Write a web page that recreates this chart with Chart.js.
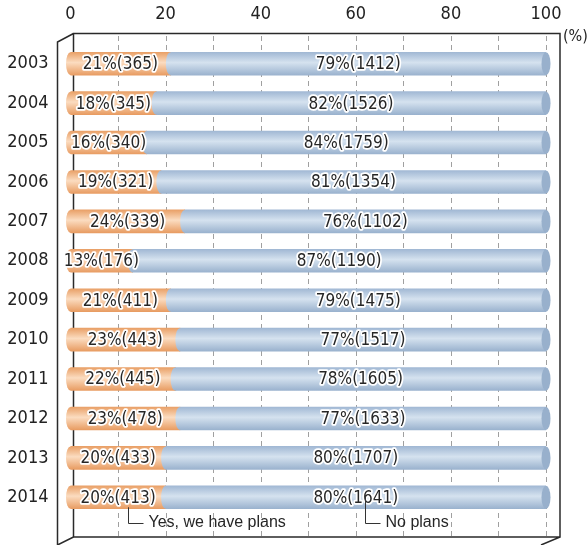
<!DOCTYPE html>
<html>
<head>
<meta charset="utf-8">
<script src="https://cdn.jsdelivr.net/npm/chart.js@4/dist/chart.umd.min.js"></script>
<style>
  html, body { margin: 0; padding: 0; background: #fff; }
  #wrap { width: 587px; height: 545px; }
</style>
</head>
<body>
<div id="wrap"><canvas id="plansChart" width="587" height="545"></canvas></div>
<script>
// survey answers per year: share (%) and count of respondents
const years = ["2003", "2004", "2005", "2006", "2007", "2008", "2009", "2010", "2011", "2012", "2013", "2014"]
const yesPct = [21, 18, 16, 19, 24, 13, 21, 23, 22, 23, 20, 20]
const yesCount = [365, 345, 340, 321, 339, 176, 411, 443, 445, 478, 433, 413]
const noPct = [79, 82, 84, 81, 76, 87, 79, 77, 78, 77, 80, 80]
const noCount = [1412, 1526, 1759, 1354, 1102, 1190, 1475, 1517, 1605, 1633, 1707, 1641]
const xTicks = [0, 20, 40, 60, 80, 100]

const NARROW = '"Liberation Sans Narrow", "DejaVu Sans Condensed", "Liberation Sans", sans-serif'
const SANS = '"Liberation Sans", Arial, sans-serif'
const BAR_H = 23

function barGradient(ctx, yMid, stops) {
  const g = ctx.createLinearGradient(0, yMid - BAR_H / 2, 0, yMid + BAR_H / 2)
  g.addColorStop(0, stops[0])
  g.addColorStop(0.45, stops[1])
  g.addColorStop(1, stops[2])
  return g
}
const orangeStops = ["#e9a067", "#fbdcc0", "#e89c62"]
const blueStops = ["#a1b8d4", "#d5e2ef", "#9ab2ce"]

function fillFor(stops) {
  return (c) => {
    const y = c.chart.scales.y
    if (!y || c.dataIndex === undefined) return stops[0]
    const mid = y.getPixelForValue(c.dataIndex)
    if (!isFinite(mid)) return stops[0]
    return barGradient(c.chart.ctx, mid, stops)
  }
}

// keep the axes from reserving extra room at the chart edges
function noScalePadding(s) {
  s.paddingTop = 0
  s.paddingBottom = 0
  s.paddingLeft = 0
  s.paddingRight = 0
}

// box frame, dashed grid, cylinder caps, labels and leaders
const boxPlugin = {
  id: "boxPlugin",
  beforeDatasetsDraw(chart) {
    const ctx = chart.ctx
    const xs = chart.scales.x
    ctx.save()
    ctx.strokeStyle = "#a0a0a0"
    ctx.lineWidth = 1
    ctx.setLineDash([5, 4])
    for (let v = 10; v <= 100; v += 10) {
      const x = Math.round(xs.getPixelForValue(v)) + 0.5
      ctx.beginPath()
      ctx.moveTo(x, 36)
      ctx.lineTo(x, 537)
      ctx.stroke()
    }
    ctx.setLineDash([])
    ctx.strokeStyle = "#2a2a2a"
    ctx.lineWidth = 1.5
    ctx.beginPath()
    ctx.rect(73.5, 33.5, 486.5, 503.5)
    ctx.moveTo(73.5, 33.5); ctx.lineTo(57.5, 42)
    ctx.lineTo(57.5, 545)
    ctx.moveTo(73.5, 537); ctx.lineTo(57.5, 545)
    ctx.moveTo(560, 537); ctx.lineTo(541, 545)
    ctx.stroke()
    ctx.restore()
  },
  afterDatasetsDraw(chart) {
    const ctx = chart.ctx
    const xs = chart.scales.x
    const yesMeta = chart.getDatasetMeta(0).data
    const noMeta = chart.getDatasetMeta(1).data
    ctx.save()
    yesMeta.forEach((el, i) => {
      const nb = noMeta[i]
      const h = el.height / 2
      // rounded ends of the cylinder
      ctx.fillStyle = barGradient(ctx, el.y, orangeStops)
      ctx.beginPath(); ctx.ellipse(el.base, el.y, 4.5, h, 0, 0, Math.PI * 2); ctx.fill()
      ctx.fillStyle = barGradient(ctx, nb.y, blueStops)
      ctx.beginPath(); ctx.ellipse(nb.base, nb.y, 4.5, h, 0, 0, Math.PI * 2); ctx.fill()
      ctx.fillStyle = "#98b0cc"
      ctx.beginPath(); ctx.ellipse(nb.x, nb.y, 4.5, h, 0, 0, Math.PI * 2); ctx.fill()
    })
    ctx.font = "17px " + NARROW
    ctx.textAlign = "center"
    ctx.textBaseline = "middle"
    ctx.lineJoin = "round"
    const label = (txt, x, y) => {
      ctx.strokeStyle = "#fff"
      ctx.lineWidth = 3.5
      ctx.strokeText(txt, x, y)
      ctx.fillStyle = "#262626"
      ctx.fillText(txt, x, y)
    }
    yesMeta.forEach((el, i) => {
      const nb = noMeta[i]
      label(yesPct[i] + "%(" + yesCount[i] + ")", (el.base + el.x) / 2, el.y + 1)
      label(noPct[i] + "%(" + noCount[i] + ")", (nb.base + nb.x) / 2, nb.y + 1)
    })
    // series leaders under the last row
    const last = yesMeta.length - 1
    const lead = (v, top, txt) => {
      const x = Math.round(xs.getPixelForValue(v)) + 0.5
      ctx.strokeStyle = "#333"
      ctx.lineWidth = 1
      ctx.beginPath()
      ctx.moveTo(x, top); ctx.lineTo(x, 523.5); ctx.lineTo(x + 15, 523.5)
      ctx.stroke()
      ctx.font = "16px " + SANS
      ctx.textAlign = "left"
      ctx.fillStyle = "#262626"
      ctx.fillText(txt, x + 20, 523)
    }
    lead(12, yesMeta[last].y + 10, "Yes, we have plans")
    lead(62, noMeta[last].y - 2, "No plans")
    ctx.font = "16px " + NARROW
    ctx.textAlign = "left"
    ctx.fillText("(%)", 563, 37)
    ctx.restore()
  }
}

new Chart(document.getElementById("plansChart"), {
  type: "bar",
  data: {
    labels: years,
    datasets: [
      { label: "Yes, we have plans", data: yesPct, backgroundColor: fillFor(orangeStops) },
      { label: "No plans", data: noPct, backgroundColor: fillFor(blueStops) },
    ],
  },
  options: {
    indexAxis: "y",
    responsive: false,
    animation: false,
    barThickness: BAR_H,
    borderWidth: 0,
    layout: { padding: { left: 0, right: 41, top: 0, bottom: 28 } },
    plugins: { legend: { display: false }, tooltip: { enabled: false } },
    scales: {
      x: {
        position: "top",
        stacked: true,
        min: 0,
        max: 100,
        afterFit: (s) => { s.height = 44; noScalePadding(s) },
        afterBuildTicks: (s) => { s.ticks = xTicks.map((v) => ({ value: v })) },
        grid: { display: false, drawTicks: false },
        border: { display: false },
        ticks: { padding: 19, color: "#222", font: { family: NARROW, size: 18 } },
      },
      y: {
        stacked: true,
        afterFit: (s) => { s.width = 70.5; noScalePadding(s) },
        grid: { display: false, drawTicks: false },
        border: { display: false },
        ticks: { padding: 22, color: "#222", font: { family: NARROW, size: 18 } },
      },
    },
  },
  plugins: [boxPlugin],
})
</script>
</body>
</html>
